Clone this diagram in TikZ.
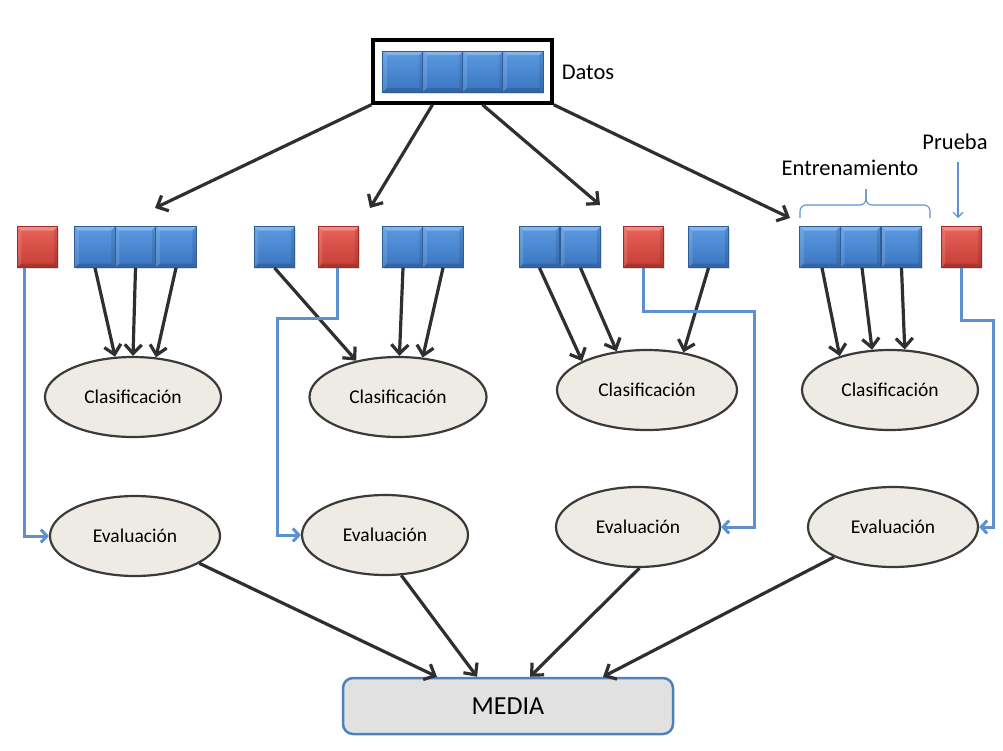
\documentclass[tikz,border=0pt]{standalone}
\usepackage{fontspec}
\setmainfont{Carlito}
\usetikzlibrary{arrows.meta,decorations.pathreplacing,calc,shapes.geometric,shadows}
\definecolor{bluetop}{HTML}{5A9AE0}
\definecolor{bluebot}{HTML}{3B76C1}
\definecolor{blueedge}{HTML}{2E5C99}
\definecolor{redtop}{HTML}{E8635A}
\definecolor{redbot}{HTML}{C63D34}
\definecolor{rededge}{HTML}{9C2C25}
\definecolor{ellfill}{HTML}{EEEBE4}
\definecolor{ellline}{HTML}{3A3A3A}
\definecolor{linkblue}{HTML}{5D8FD3}
\definecolor{mediafill}{HTML}{E1E1E1}
\definecolor{mediaedge}{HTML}{4F81BD}
\definecolor{arrowgray}{HTML}{2F2F2F}
\tikzset{
  sqbase/.style={rectangle, minimum width=40.5pt, minimum height=41pt, inner sep=0pt,
    line width=0.8pt, drop shadow={shadow xshift=1pt, shadow yshift=-1.5pt, opacity=0.25},
    path picture={
      \fill[white,opacity=0.28] (path picture bounding box.north west) -- (path picture bounding box.north east)
        -- ++(-4,4) -- ($(path picture bounding box.north west)+(4,4)$) -- cycle;
      \fill[white,opacity=0.12] (path picture bounding box.north west) -- ++(4,4)
        -- ($(path picture bounding box.south west)+(4,-4)$) -- (path picture bounding box.south west) -- cycle;
      \fill[black,opacity=0.15] (path picture bounding box.south west) -- (path picture bounding box.south east)
        -- ++(-4,-4) -- ($(path picture bounding box.south west)+(4,-4)$) -- cycle;
      \fill[black,opacity=0.10] (path picture bounding box.north east) -- ++(-4,4)
        -- ($(path picture bounding box.south east)+(-4,-4)$) -- (path picture bounding box.south east) -- cycle;
    }},
  sqb/.style={sqbase, top color=bluetop, bottom color=bluebot, draw=blueedge},
  sqr/.style={sqbase, top color=redtop, bottom color=redbot, draw=rededge},
  ell/.style={ellipse, draw=ellline, line width=2.2pt, fill=ellfill, inner sep=0pt,
    minimum height=80pt, font=\fontsize{19.5}{22}\selectfont},
  conn/.style={draw=arrowgray, line width=3.2pt, -{Straight Barb[length=9pt,width=17pt]}},
  test/.style={draw=linkblue, line width=3pt, -{Straight Barb[length=6pt,width=13pt]}},
  lbl/.style={font=\fontsize{22.5}{26}\selectfont, inner sep=0pt},
}
\begin{document}
\begin{tikzpicture}[x=1pt,y=-1pt]
\useasboundingbox (0,0) rectangle (1003,750);

% Datos
\node[draw=black, line width=3.5pt, minimum width=179pt, minimum height=63pt, inner sep=0pt] (datos) at (462.5,71.5) {};
\node[sqb] (d1) at (403,71.5) {};
\node[sqb] (d2) at (443,71.5) {};
\node[sqb] (d3) at (483,71.5) {};
\node[sqb] (d4) at (523,71.5) {};
\node[lbl] (datoslbl) at (588,72) {Datos};

% target coordinates of the split arrows
\coordinate (t1) at (155,208);
\coordinate (t2) at (370,208);
\coordinate (t3) at (600,205);
\coordinate (t4) at (790,218);
\draw[conn] (datos.south west) -- (t1);
\draw[conn] ($(datos.south)+(-30,0)$) -- (t2);
\draw[conn] ($(datos.south)+(20,0)$) -- (t3);
\draw[conn] (datos.south east) -- (t4);

% row of squares
\node[sqr] (r1)  at (37.5,247) {};
\node[sqb] (b11) at (95,247) {};
\node[sqb] (b12) at (135.5,247) {};
\node[sqb] (b13) at (176,247) {};

\node[sqb] (b21) at (274.5,247) {};
\node[sqr] (r2)  at (338.5,247) {};
\node[sqb] (b23) at (403,247) {};
\node[sqb] (b24) at (443,247) {};

\node[sqb] (b31) at (539.5,247) {};
\node[sqb] (b32) at (580.5,247) {};
\node[sqr] (r3)  at (643.5,247) {};
\node[sqb] (b34) at (708.5,247) {};

\node[sqb] (b41) at (820,247) {};
\node[sqb] (b42) at (860.5,247) {};
\node[sqb] (b43) at (901.5,247) {};
\node[sqr] (r4)  at (961.5,247) {};

% labels Entrenamiento / Prueba
\node[lbl] (entr) at (850,168) {Entrenamiento};
\node[lbl] (prueba) at (955,142) {Prueba};
\draw[linkblue, line width=1.1pt, rounded corners=6pt] (800,218) |- (866,205) -- (866,189);
\draw[linkblue, line width=1.1pt, rounded corners=6pt] (930,218) |- (866,205) -- (866,189);
\coordinate (pstart) at (958,162);
\coordinate (ptip) at (958,218);
\draw[linkblue, line width=1.1pt, -{Straight Barb[length=5pt,width=10pt]}] (pstart) -- (ptip);

% Clasificacion ellipses
\node[ell, minimum width=176pt] (c1) at (133,397) {Clasificación};
\node[ell, minimum width=177pt] (c2) at (398,397) {Clasificación};
\node[ell, minimum width=180pt] (c3) at (647,390) {Clasificación};
\node[ell, minimum width=176pt] (c4) at (890,390) {Clasificación};

% Evaluacion ellipses
\node[ell, minimum width=170pt] (e1) at (135,536) {Evaluación};
\node[ell, minimum width=166pt] (e2) at (385,535) {Evaluación};
\node[ell, minimum width=164pt] (e3) at (638,527) {Evaluación};
\node[ell, minimum width=170pt] (e4) at (893,527) {Evaluación};

% MEDIA
\node[draw=mediaedge, line width=2.5pt, fill=mediafill, rounded corners=10pt,
  minimum width=330pt, minimum height=56pt, inner sep=0pt,
  font=\fontsize{26}{30}\selectfont] (media) at (508,706) {MEDIA};

% training arrows
\draw[conn] (b11.south) -- (c1.114.7);
\draw[conn] (b12.south) -- (c1.90);
\draw[conn] (b13.south) -- (c1.60.4);

\draw[conn] (b21.south) -- (c2.139);
\draw[conn] (b23.south) -- (c2.88.6);
\draw[conn] (b24.south) -- (c2.58);

\draw[conn] (b31.south) -- (c3.156);
\draw[conn] (b32.south) -- (c3.128.5);
\draw[conn] (b34.south) -- (c3.46.5);

\draw[conn] ($(b41.south)+(2,0)$) -- (c4.146.7);
\draw[conn] ($(b42.south)+(1.5,0)$) -- (c4.114.7);
\draw[conn] (b43.south) -- (c4.70.5);

% test links
\draw[test] ($(r1.south west)+(8,0)$) |- (e1.west);
\draw[test] ($(r2.south)+(-1.5,0)$) -- ++(0,51) -| ($(e2.west)+(-23,0)$) -- (e2.west);
\draw[test] (r3.south) -- ++(0,44) -| ($(e3.east)+(33,0)$) -- (e3.east);
\draw[test] (r4.south) -- ++(0,53) -| ($(e4.east)+(14,0)$) -- (e4.east);

% evaluation to media
\draw[conn] (e1.-23.5) -- ($(media.north)+(-71,0)$);
\draw[conn] (e2.-68) -- ($(media.north)+(-31,0)$);
\draw[conn] (e3.-88) -- ($(media.north)+(22,0)$);
\draw[conn] (e4.207.8) -- ($(media.north)+(95,0)$);
\end{tikzpicture}
\end{document}
